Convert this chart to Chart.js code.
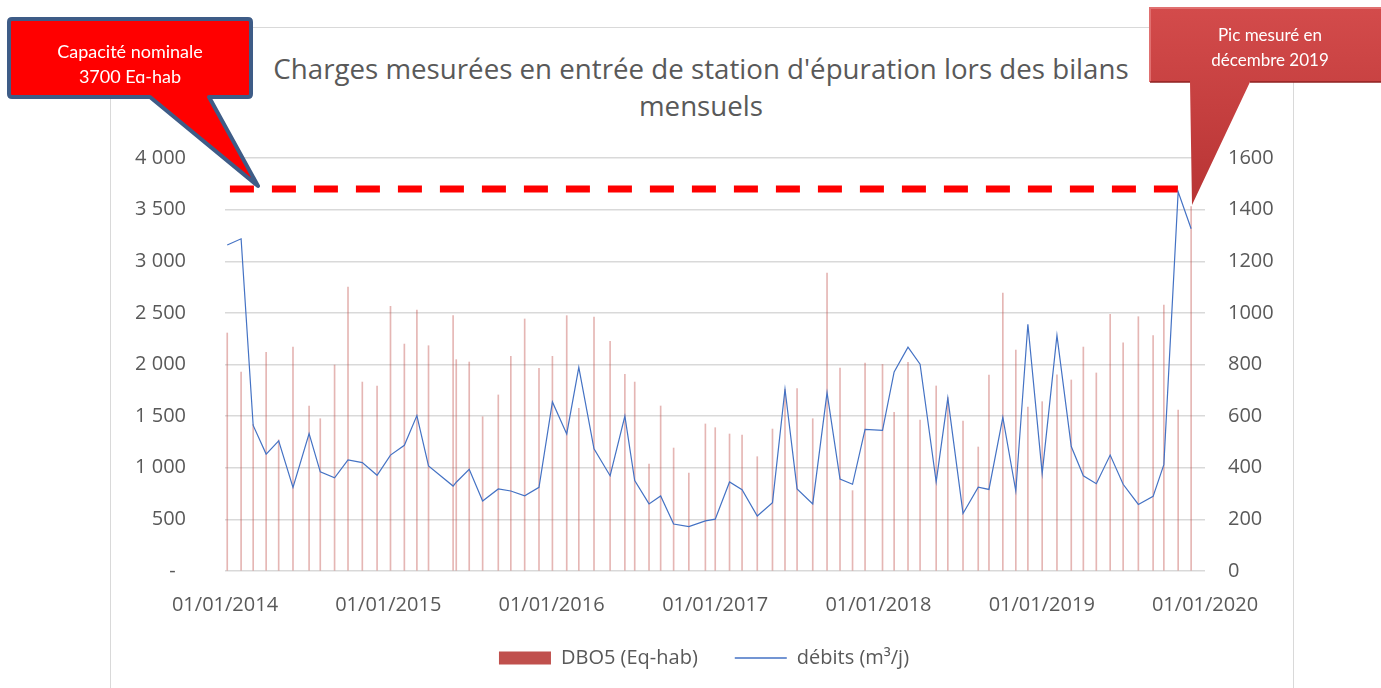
<!DOCTYPE html>
<html lang="fr">
<head>
<meta charset="utf-8">
<title>Charges mesurées en entrée de station d'épuration</title>
<script src="https://cdn.jsdelivr.net/npm/chart.js@4.4.1/dist/chart.umd.min.js"></script>
<style>
  html, body { margin: 0; padding: 0; background: #fff; overflow: hidden; }
  #wrap { position: relative; width: 1381px; height: 688px; }
  #frame { position: absolute; left: 110px; top: 27px; width: 1182px; height: 700px; border: 1px solid #d9d9d9; }
  #titre { position: absolute; left: 0; top: 50px; width: 1402px; text-align: center;
           font-family: 'Open Sans', sans-serif; font-size: 27.7px; line-height: 37px; color: #595959; }
  canvas, svg { position: absolute; left: 0; top: 0; }
  svg { pointer-events: none; }
</style>
</head>
<body>
<div id="wrap">
  <div id="frame"></div>
  <div id="titre">Charges mesurées en entrée de station d'épuration lors des bilans<br>mensuels</div>
  <canvas id="chart-charges" width="1381" height="688"></canvas>

  <!-- bulles d'annotation -->
  <svg width="1381" height="688" viewBox="0 0 1381 688">
    <defs>
      <linearGradient id="rouge" x1="0" y1="0" x2="0" y2="1">
        <stop offset="0" stop-color="#d34b4b"/>
        <stop offset="1" stop-color="#b83434"/>
      </linearGradient>
      <clipPath id="clipTexte"><rect x="0" y="0" width="260" height="83"/></clipPath>
    </defs>
    <path d="M12 19 L248 19 Q251 19 251 22 L251 94 Q251 97 248 97 L209 97 L258 186 L150 97 L12 97 Q9 97 9 94 L9 22 Q9 19 12 19 Z"
          fill="#ff0000" stroke="#3e5c87" stroke-width="4" stroke-linejoin="round"/>
    <g clip-path="url(#clipTexte)" font-family="Lato, sans-serif" font-size="18" fill="#fff" text-anchor="middle">
      <text x="130" y="58">Capacité nominale</text>
      <text x="130" y="83">3700 Eq-hab</text>
    </g>

    <path d="M1150 8 L1385 8 L1385 82 L1250 82 L1192 205 L1190 82 L1150 82 Z" fill="url(#rouge)"/>
    <path d="M1150 82 L1150 8 L1385 8" fill="none" stroke="#e07070" stroke-width="2"/>
    <path d="M1150 82 L1190 82 M1250 82 L1385 82" fill="none" stroke="#8e2222" stroke-width="1.5"/>
    <g font-family="Lato, sans-serif" font-size="17" fill="#fff" text-anchor="middle">
      <text x="1270" y="41">Pic mesuré en</text>
      <text x="1270" y="66">décembre 2019</text>
    </g>
  </svg>
</div>

<script>
// Dates des bilans mensuels
const dates = [
  '2014-01-06','2014-02-06','2014-03-05','2014-04-03','2014-05-01','2014-06-02','2014-07-08','2014-08-02','2014-09-03','2014-10-03','2014-11-04','2014-12-07',
  '2015-01-06','2015-02-06','2015-03-06','2015-04-01','2015-05-26','2015-06-02','2015-07-01','2015-07-31','2015-09-04','2015-10-02','2015-11-02','2015-12-04',
  '2016-01-03','2016-02-04','2016-03-02','2016-04-05','2016-05-11','2016-06-13','2016-07-05','2016-08-06','2016-09-01','2016-09-30','2016-11-03','2016-12-10',
  '2017-01-01','2017-02-02','2017-03-02','2017-04-05','2017-05-09','2017-06-06','2017-07-03','2017-08-07','2017-09-08','2017-10-07','2017-11-04','2017-12-02',
  '2018-01-10','2018-02-05','2018-03-08','2018-04-04','2018-05-10','2018-06-05','2018-07-09','2018-08-12','2018-09-05','2018-10-06','2018-11-04','2018-12-01',
  '2019-01-02','2019-02-04','2019-03-08','2019-04-04','2019-05-03','2019-06-03','2019-07-02','2019-08-05','2019-09-07','2019-10-01','2019-11-02','2019-12-01'
];

// DBO5 (Eq-hab) - axe de gauche
const dbo5 = [
  2305, 1927, 1420, 2118, 1270, 2169, 1598, 1475, 1995, 2751, 1830, 1792,
  2563, 2198, 2528, 2182, 2473, 2047, 2024, 1494, 1705, 2079, 2441, 1963,
  2079, 2473, 1576, 2460, 2225, 1905, 1830, 1036, 1598, 1191, 949, 1424,
  1388, 1327, 1317, 1107, 1375, 1760, 1766, 1475, 2886, 1966, 778, 2014,
  2001, 1537, 2021, 1462, 1792, 1680, 1453, 1201, 1898, 2692, 2140, 1588,
  1640, 1900, 1850, 2169, 1918, 2486, 2211, 2463, 2279, 2576, 1559, 3530
];

// débits (m³/j) - axe de droite
const debits = [
  1263, 1287, 564, 453, 504, 324, 532, 384, 361, 430, 420, 371,
  449, 487, 602, 407, 329, 344, 394, 271, 318, 310, 291, 324,
  655, 531, 789, 473, 369, 600, 350, 260, 291, 182, 172, 194,
  201, 345, 315, 213, 265, 704, 318, 260, 691, 356, 336, 549,
  545, 771, 867, 801, 345, 670, 223, 325, 316, 595, 310, 956,
  378, 913, 482, 369, 338, 449, 336, 258, 289, 412, 1469, 1326
];

// capacité nominale (pointillés rouges)
const capDates = ['2014-01-12', '2019-11-02'];
const capValues = [3700, 3700];

const yearTicks = [2014, 2015, 2016, 2017, 2018, 2019, 2020];

const GRIS = '#595959';

function toPoints(xs, ys) {
  return xs.map((d, i) => ({ x: Date.parse(d), y: ys[i] }));
}

function fmtMilliers(v) {
  if (v === 0) return '-  ';
  return String(v).replace(/\B(?=(\d{3})+(?!\d))/g, ' ');
}

Chart.defaults.font.family = "'Open Sans', sans-serif";
Chart.defaults.font.size = 20;
Chart.defaults.color = GRIS;

new Chart(document.getElementById('chart-charges').getContext('2d'), {
  type: 'bar',
  data: {
    datasets: [
      {
        type: 'line',
        label: 'capacite',
        data: toPoints(capDates, capValues),
        yAxisID: 'y',
        borderColor: '#ff0000',
        borderWidth: 7,
        borderDash: [24, 18],
        borderCapStyle: 'butt',
        pointRadius: 0,
        order: 2
      },
      {
        type: 'line',
        label: 'débits (m³/j)',
        data: toPoints(dates, debits),
        yAxisID: 'y1',
        borderColor: '#4472c4',
        borderWidth: 1.2,
        pointRadius: 0,
        tension: 0,
        order: 1
      },
      {
        type: 'bar',
        label: 'DBO5 (Eq-hab)',
        data: toPoints(dates, dbo5),
        yAxisID: 'y',
        backgroundColor: 'rgba(192,80,77,0.42)',
        barThickness: 1,
        order: 3
      }
    ]
  },
  options: {
    responsive: false,
    animation: false,
    devicePixelRatio: 1,
    layout: { padding: { left: 27, right: 0, top: 158, bottom: 10 } },
    plugins: {
      tooltip: { enabled: false },
      title: { display: false },
      legend: {
        position: 'bottom',
        labels: {
          usePointStyle: true,
          pointStyleWidth: 52,
          boxHeight: 13,
          padding: 37,
          color: GRIS,
          generateLabels(chart) {
            const items = Chart.defaults.plugins.legend.labels.generateLabels(chart);
            items.forEach(it => {
              const ds = chart.data.datasets[it.datasetIndex];
              if (ds.type === 'bar') {
                it.pointStyle = 'rect';
                it.fillStyle = '#c0504d';
                it.strokeStyle = '#c0504d';
                it.lineWidth = 0;
              } else {
                it.pointStyle = 'line';
                it.strokeStyle = '#4472c4';
                it.lineWidth = 1.5;
              }
            });
            return items.filter(it => chart.data.datasets[it.datasetIndex].label !== 'capacite');
          },
          sort: (a, b) => b.datasetIndex - a.datasetIndex
        }
      }
    },
    scales: {
      x: {
        type: 'linear',
        min: Date.parse('2014-01-01'),
        max: Date.parse('2020-01-01'),
        offset: false,
        grid: { display: false, offset: false },
        border: { display: false },
        afterBuildTicks: scale => {
          scale.ticks = yearTicks.map(y => ({ value: Date.parse(y + '-01-01') }));
        },
        afterFit: scale => { scale.height = 40; },
        ticks: {
          autoSkip: false,
          maxRotation: 0,
          padding: 14,
          callback: v => '01/01/' + new Date(v).getUTCFullYear()
        }
      },
      y: {
        position: 'left',
        min: 0,
        max: 4000,
        border: { display: false },
        grid: { color: '#d9d9d9', lineWidth: 1.5, drawTicks: false },
        afterFit: scale => { scale.width = 198; },
        ticks: { stepSize: 500, padding: 39, callback: v => fmtMilliers(v) }
      },
      y1: {
        position: 'right',
        min: 0,
        max: 1600,
        border: { display: false },
        grid: { display: false, drawTicks: false },
        afterFit: scale => { scale.width = 176; },
        ticks: { stepSize: 200, padding: 23, callback: v => String(v) }
      }
    }
  }
});
</script>
</body>
</html>
